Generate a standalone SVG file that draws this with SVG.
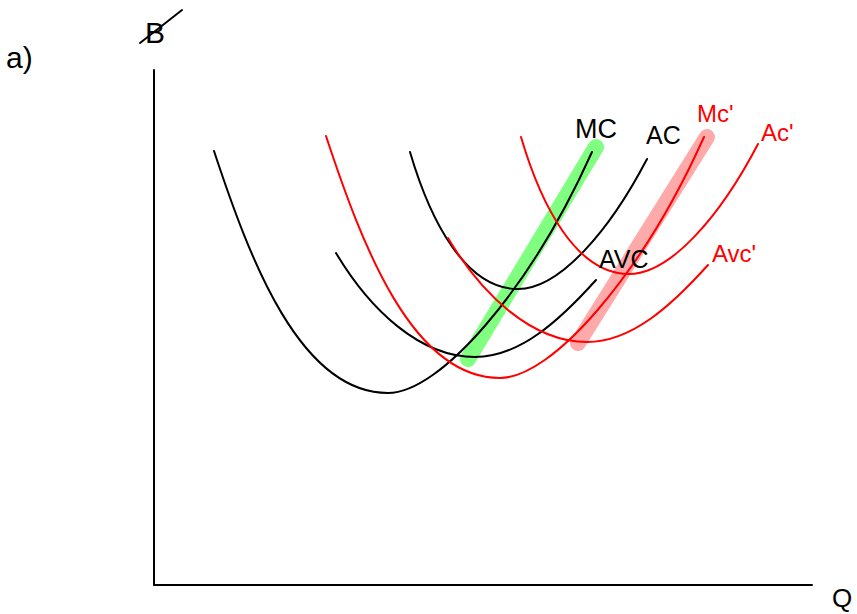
<svg xmlns="http://www.w3.org/2000/svg" width="857" height="614" viewBox="0 0 857 614">
<style>
.curve{fill:none;stroke-width:2;stroke-linecap:round}
.k{stroke:#000}
.r{stroke:#ff0000}
.hl{fill:none;stroke-width:16;stroke-linecap:round}
.lbl{font-family:"Liberation Sans",Arial,sans-serif}
.lk{fill:#000}
.lr{fill:#ff0000}
</style>
<defs>
<path id="mcShape" d="M214,151 C250,260 300,393 388,393 C440,393 530,290 592,152"/>
<path id="acShape" d="M410,152 C430,220 465,289 518,289 C560,289 610,230 647,159"/>
<path id="avcShape" d="M336,253 C370,310 420,357 475,357 C520,357 560,320 596,280"/>
</defs>
<rect width="857" height="614" fill="#fff"/>
<g id="highlights">
<line class="hl" x1="468" y1="359" x2="596" y2="147" stroke="#80ff80"/>
<line class="hl" x1="578" y1="343" x2="707" y2="137" stroke="#ffaaaa"/>
</g>
<g id="axes" class="curve k">
<line x1="154" y1="70" x2="154" y2="585"/>
<line x1="154" y1="585" x2="812" y2="585"/>
</g>
<g id="connectors">
<use id="MC" href="#mcShape" class="curve k"/>
<use id="AC" href="#acShape" class="curve k"/>
<use id="AVC" href="#avcShape" class="curve k"/>
<use id="MC2" href="#mcShape" class="curve r" transform="translate(112,-15)"/>
<use id="AC2" href="#acShape" class="curve r" transform="translate(111,-15)"/>
<use id="AVC2" href="#avcShape" class="curve r" transform="translate(112,-15)"/>
</g>
<g id="labels" class="lbl">
<text x="6" y="68" font-size="30" class="lk">a)</text>
<g id="ylabel">
<text x="145" y="43" font-size="30" class="lk">B</text>
<line x1="140" y1="43" x2="182" y2="10" stroke="#000" stroke-width="2" stroke-linecap="round"/>
</g>
<text x="832" y="607" font-size="26" class="lk">Q</text>
<text x="575" y="138" font-size="27" class="lk">MC</text>
<text x="646" y="144" font-size="25" class="lk">AC</text>
<text x="599" y="268" font-size="25" class="lk">AVC</text>
<text x="697" y="122" font-size="24" class="lr">Mc'</text>
<text x="761" y="141" font-size="24" class="lr">Ac'</text>
<text x="712" y="262" font-size="24" class="lr">Avc'</text>
</g>
</svg>
